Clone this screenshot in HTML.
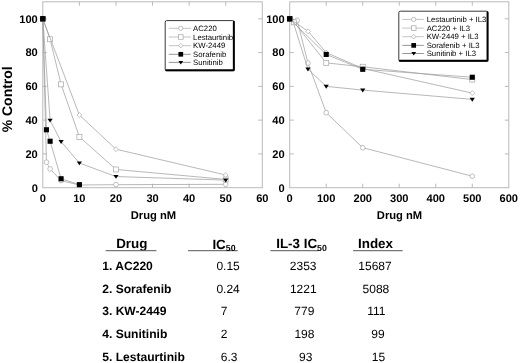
<!DOCTYPE html>
<html><head><meta charset="utf-8"><title>Drug IC50</title>
<style>
html,body{margin:0;padding:0;background:#fff;}
body{width:520px;height:363px;overflow:hidden;}
svg{display:block;filter:blur(0.35px);}
text{font-family:"Liberation Sans",sans-serif;fill:#000;text-rendering:geometricPrecision;}
.tk{font-size:11.1px;font-weight:bold;}
.ax{font-size:11.2px;font-weight:bold;}
.yl{font-size:14px;font-weight:bold;}
.lg{font-size:7.75px;}
.hd{font-size:13.4px;font-weight:bold;}
.sb{font-size:8.8px;font-weight:bold;}
.nm{font-size:12.1px;font-weight:bold;}
.vl{font-size:12px;}
</style></head>
<body>
<svg width="520" height="363" viewBox="0 0 520 363">
<rect width="520" height="363" fill="#fff"/>
<rect x="42.8" y="1.8" width="219.5" height="185.9" fill="none" stroke="#bababa" stroke-width="1"/>
<path d="M79.38 187.7v-4.0M79.38 1.8v4.0M115.97 187.7v-4.0M115.97 1.8v4.0M152.55 187.7v-4.0M152.55 1.8v4.0M189.13 187.7v-4.0M189.13 1.8v4.0M225.72 187.7v-4.0M225.72 1.8v4.0M42.8 153.92h4.0M262.3 153.92h-4.0M42.8 120.14h4.0M262.3 120.14h-4.0M42.8 86.36h4.0M262.3 86.36h-4.0M42.8 52.58h4.0M262.3 52.58h-4.0M42.8 18.8h4.0M262.3 18.8h-4.0" stroke="#bababa" stroke-width="1" fill="none"/>
<text x="42.8" y="201.6" text-anchor="middle" class="tk">0</text>
<text x="79.38" y="201.6" text-anchor="middle" class="tk">10</text>
<text x="115.97" y="201.6" text-anchor="middle" class="tk">20</text>
<text x="152.55" y="201.6" text-anchor="middle" class="tk">30</text>
<text x="189.13" y="201.6" text-anchor="middle" class="tk">40</text>
<text x="225.72" y="201.6" text-anchor="middle" class="tk">50</text>
<text x="262.3" y="201.6" text-anchor="middle" class="tk">60</text>
<text x="37.8" y="191.55" text-anchor="end" class="tk">0</text>
<text x="37.8" y="157.77" text-anchor="end" class="tk">20</text>
<text x="37.8" y="123.99" text-anchor="end" class="tk">40</text>
<text x="37.8" y="90.21" text-anchor="end" class="tk">60</text>
<text x="37.8" y="56.43" text-anchor="end" class="tk">80</text>
<text x="37.8" y="22.65" text-anchor="end" class="tk">100</text>
<rect x="289.7" y="1.8" width="219.1" height="185.9" fill="none" stroke="#bababa" stroke-width="1"/>
<path d="M326.22 187.7v-4.0M326.22 1.8v4.0M362.73 187.7v-4.0M362.73 1.8v4.0M399.25 187.7v-4.0M399.25 1.8v4.0M435.77 187.7v-4.0M435.77 1.8v4.0M472.28 187.7v-4.0M472.28 1.8v4.0M289.7 153.92h4.0M508.8 153.92h-4.0M289.7 120.14h4.0M508.8 120.14h-4.0M289.7 86.36h4.0M508.8 86.36h-4.0M289.7 52.58h4.0M508.8 52.58h-4.0M289.7 18.8h4.0M508.8 18.8h-4.0" stroke="#bababa" stroke-width="1" fill="none"/>
<text x="289.7" y="201.6" text-anchor="middle" class="tk">0</text>
<text x="326.22" y="201.6" text-anchor="middle" class="tk">100</text>
<text x="362.73" y="201.6" text-anchor="middle" class="tk">200</text>
<text x="399.25" y="201.6" text-anchor="middle" class="tk">300</text>
<text x="435.77" y="201.6" text-anchor="middle" class="tk">400</text>
<text x="472.28" y="201.6" text-anchor="middle" class="tk">500</text>
<text x="508.8" y="201.6" text-anchor="middle" class="tk">600</text>
<text x="284.7" y="191.55" text-anchor="end" class="tk">0</text>
<text x="284.7" y="157.77" text-anchor="end" class="tk">20</text>
<text x="284.7" y="123.99" text-anchor="end" class="tk">40</text>
<text x="284.7" y="90.21" text-anchor="end" class="tk">60</text>
<text x="284.7" y="56.43" text-anchor="end" class="tk">80</text>
<text x="284.7" y="22.65" text-anchor="end" class="tk">100</text>
<path d="M42.8 18.8L46.46 162.2L50.12 168.95L61.09 180.61L79.38 185L115.97 184.66L225.72 184.32" fill="none" stroke="#a0a0a0" stroke-width="0.75"/>
<circle cx="42.8" cy="18.8" r="2.35" fill="#fff" stroke="#ababab" stroke-width="0.75"/>
<circle cx="46.46" cy="162.2" r="2.35" fill="#fff" stroke="#ababab" stroke-width="0.75"/>
<circle cx="50.12" cy="168.95" r="2.35" fill="#fff" stroke="#ababab" stroke-width="0.75"/>
<circle cx="61.09" cy="180.61" r="2.35" fill="#fff" stroke="#ababab" stroke-width="0.75"/>
<circle cx="79.38" cy="185" r="2.35" fill="#fff" stroke="#ababab" stroke-width="0.75"/>
<circle cx="115.97" cy="184.66" r="2.35" fill="#fff" stroke="#ababab" stroke-width="0.75"/>
<circle cx="225.72" cy="184.32" r="2.35" fill="#fff" stroke="#ababab" stroke-width="0.75"/>
<path d="M42.8 18.8L50.12 39.24L61.09 84.33L79.38 136.86L115.97 169.46L225.72 179.42" fill="none" stroke="#a0a0a0" stroke-width="0.75"/>
<rect x="40.3" y="16.3" width="5" height="5" fill="#fff" stroke="#ababab" stroke-width="0.75"/>
<rect x="47.62" y="36.74" width="5" height="5" fill="#fff" stroke="#ababab" stroke-width="0.75"/>
<rect x="58.59" y="81.83" width="5" height="5" fill="#fff" stroke="#ababab" stroke-width="0.75"/>
<rect x="76.88" y="134.36" width="5" height="5" fill="#fff" stroke="#ababab" stroke-width="0.75"/>
<rect x="113.47" y="166.96" width="5" height="5" fill="#fff" stroke="#ababab" stroke-width="0.75"/>
<rect x="223.22" y="176.92" width="5" height="5" fill="#fff" stroke="#ababab" stroke-width="0.75"/>
<path d="M42.8 18.8L79.38 115.07L115.97 149.19L225.72 175.03" fill="none" stroke="#a0a0a0" stroke-width="0.75"/>
<path d="M42.8 16.35L45.25 18.8L42.8 21.25L40.35 18.8Z" fill="#fff" stroke="#ababab" stroke-width="0.75"/>
<path d="M79.38 112.62L81.83 115.07L79.38 117.52L76.93 115.07Z" fill="#fff" stroke="#ababab" stroke-width="0.75"/>
<path d="M115.97 146.74L118.42 149.19L115.97 151.64L113.52 149.19Z" fill="#fff" stroke="#ababab" stroke-width="0.75"/>
<path d="M225.72 172.58L228.17 175.03L225.72 177.48L223.27 175.03Z" fill="#fff" stroke="#ababab" stroke-width="0.75"/>
<path d="M42.8 18.8L46.46 129.77L50.12 141.25L61.09 178.75L79.38 184.66" fill="none" stroke="#a0a0a0" stroke-width="0.75"/>
<rect x="40.25" y="16.25" width="5.1" height="5.1" fill="#000"/>
<rect x="43.91" y="127.22" width="5.1" height="5.1" fill="#000"/>
<rect x="47.57" y="138.7" width="5.1" height="5.1" fill="#000"/>
<rect x="58.54" y="176.2" width="5.1" height="5.1" fill="#000"/>
<rect x="76.83" y="182.11" width="5.1" height="5.1" fill="#000"/>
<path d="M42.8 18.8L50.12 120.31L61.09 141.59L79.38 163.04L115.97 176.55L225.72 180.1" fill="none" stroke="#a0a0a0" stroke-width="0.75"/>
<path d="M40.2 17.2L45.4 17.2L42.8 21.1Z" fill="#000"/>
<path d="M47.52 118.71L52.72 118.71L50.12 122.61Z" fill="#000"/>
<path d="M58.49 139.99L63.69 139.99L61.09 143.89Z" fill="#000"/>
<path d="M76.78 161.44L81.98 161.44L79.38 165.34Z" fill="#000"/>
<path d="M113.37 174.95L118.57 174.95L115.97 178.85Z" fill="#000"/>
<path d="M223.12 178.5L228.32 178.5L225.72 182.4Z" fill="#000"/>
<rect x="40.25" y="16.25" width="5.1" height="5.1" fill="#000"/>
<path d="M289.7 18.8L297.19 20.32L307.96 63.05L326.22 112.71L362.73 147.67L472.28 176.21" fill="none" stroke="#a0a0a0" stroke-width="0.75"/>
<circle cx="289.7" cy="18.8" r="2.35" fill="#fff" stroke="#ababab" stroke-width="0.75"/>
<circle cx="297.19" cy="20.32" r="2.35" fill="#fff" stroke="#ababab" stroke-width="0.75"/>
<circle cx="307.96" cy="63.05" r="2.35" fill="#fff" stroke="#ababab" stroke-width="0.75"/>
<circle cx="326.22" cy="112.71" r="2.35" fill="#fff" stroke="#ababab" stroke-width="0.75"/>
<circle cx="362.73" cy="147.67" r="2.35" fill="#fff" stroke="#ababab" stroke-width="0.75"/>
<circle cx="472.28" cy="176.21" r="2.35" fill="#fff" stroke="#ababab" stroke-width="0.75"/>
<path d="M289.7 18.8L294.08 22.35L326.22 62.88L362.73 66.77L472.28 79.6" fill="none" stroke="#a0a0a0" stroke-width="0.75"/>
<rect x="287.2" y="16.3" width="5" height="5" fill="#fff" stroke="#ababab" stroke-width="0.75"/>
<rect x="291.58" y="19.85" width="5" height="5" fill="#fff" stroke="#ababab" stroke-width="0.75"/>
<rect x="323.72" y="60.38" width="5" height="5" fill="#fff" stroke="#ababab" stroke-width="0.75"/>
<rect x="360.23" y="64.27" width="5" height="5" fill="#fff" stroke="#ababab" stroke-width="0.75"/>
<rect x="469.78" y="77.1" width="5" height="5" fill="#fff" stroke="#ababab" stroke-width="0.75"/>
<path d="M289.7 18.8L308.14 31.3L326.22 52.58L362.73 68.46L472.28 93.12" fill="none" stroke="#a0a0a0" stroke-width="0.75"/>
<path d="M289.7 16.35L292.15 18.8L289.7 21.25L287.25 18.8Z" fill="#fff" stroke="#ababab" stroke-width="0.75"/>
<path d="M308.14 28.85L310.59 31.3L308.14 33.75L305.69 31.3Z" fill="#fff" stroke="#ababab" stroke-width="0.75"/>
<path d="M326.22 50.13L328.67 52.58L326.22 55.03L323.77 52.58Z" fill="#fff" stroke="#ababab" stroke-width="0.75"/>
<path d="M362.73 66.01L365.18 68.46L362.73 70.91L360.28 68.46Z" fill="#fff" stroke="#ababab" stroke-width="0.75"/>
<path d="M472.28 90.67L474.73 93.12L472.28 95.57L469.83 93.12Z" fill="#fff" stroke="#ababab" stroke-width="0.75"/>
<path d="M289.7 18.8L326.22 54.44L362.73 69.3L472.28 77.24" fill="none" stroke="#a0a0a0" stroke-width="0.75"/>
<rect x="287.15" y="16.25" width="5.1" height="5.1" fill="#000"/>
<rect x="323.67" y="51.89" width="5.1" height="5.1" fill="#000"/>
<rect x="360.18" y="66.75" width="5.1" height="5.1" fill="#000"/>
<rect x="469.73" y="74.69" width="5.1" height="5.1" fill="#000"/>
<path d="M289.7 18.8L293.35 22.52L307.96 69.13L326.22 86.36L362.73 90.08L472.28 99.37" fill="none" stroke="#a0a0a0" stroke-width="0.75"/>
<path d="M287.1 17.2L292.3 17.2L289.7 21.1Z" fill="#000"/>
<path d="M305.36 67.53L310.56 67.53L307.96 71.43Z" fill="#000"/>
<path d="M323.62 84.76L328.82 84.76L326.22 88.66Z" fill="#000"/>
<path d="M360.13 88.48L365.33 88.48L362.73 92.38Z" fill="#000"/>
<path d="M469.68 97.77L474.88 97.77L472.28 101.67Z" fill="#000"/>
<rect x="287.15" y="16.25" width="5.1" height="5.1" fill="#000"/>
<rect x="165.2" y="20.6" width="69" height="50.1" rx="1.5" fill="#fff" stroke="#222" stroke-width="0.9"/>
<path d="M233.8 21.6V70.3H166.2" fill="none" stroke="#000" stroke-width="1.9" stroke-linejoin="round" stroke-linecap="round"/>
<path d="M168.7 28.3H190.8" stroke="#b4b4b4" stroke-width="0.8"/>
<circle cx="180.8" cy="28.3" r="2.16" fill="#fff" stroke="#ababab" stroke-width="0.75"/>
<text x="193.1" y="31.05" class="lg">AC220</text>
<path d="M168.7 37H190.8" stroke="#b4b4b4" stroke-width="0.8"/>
<rect x="178.5" y="34.7" width="4.6" height="4.6" fill="#fff" stroke="#ababab" stroke-width="0.75"/>
<text x="193.1" y="39.75" class="lg">Lestaurtinib</text>
<path d="M168.7 45.7H190.8" stroke="#b4b4b4" stroke-width="0.8"/>
<path d="M180.8 43.45L183.05 45.7L180.8 47.95L178.55 45.7Z" fill="#fff" stroke="#ababab" stroke-width="0.75"/>
<text x="193.1" y="48.45" class="lg">KW-2449</text>
<path d="M168.7 54.3H190.8" stroke="#7c7c7c" stroke-width="0.8"/>
<rect x="178.45" y="51.95" width="4.69" height="4.69" fill="#000"/>
<text x="193.1" y="57.05" class="lg">Sorafenib</text>
<path d="M168.7 62.4H190.8" stroke="#7c7c7c" stroke-width="0.8"/>
<path d="M178.41 60.93L183.19 60.93L180.8 64.52Z" fill="#000"/>
<text x="193.1" y="65.15" class="lg">Sunitinib</text>
<rect x="398.8" y="11.2" width="89.1" height="50" rx="1.5" fill="#fff" stroke="#222" stroke-width="0.9"/>
<path d="M487.5 12.2V60.8H399.8" fill="none" stroke="#000" stroke-width="1.9" stroke-linejoin="round" stroke-linecap="round"/>
<path d="M402.3 19.4H423.8" stroke="#b4b4b4" stroke-width="0.8"/>
<circle cx="413.7" cy="19.4" r="2.16" fill="#fff" stroke="#ababab" stroke-width="0.75"/>
<text x="426.7" y="22.15" class="lg">Lestaurtinib + IL3</text>
<path d="M402.3 28.1H423.8" stroke="#b4b4b4" stroke-width="0.8"/>
<rect x="411.4" y="25.8" width="4.6" height="4.6" fill="#fff" stroke="#ababab" stroke-width="0.75"/>
<text x="426.7" y="30.85" class="lg">AC220 + IL3</text>
<path d="M402.3 36.7H423.8" stroke="#b4b4b4" stroke-width="0.8"/>
<path d="M413.7 34.45L415.95 36.7L413.7 38.95L411.45 36.7Z" fill="#fff" stroke="#ababab" stroke-width="0.75"/>
<text x="426.7" y="39.45" class="lg">KW-2449 + IL3</text>
<path d="M402.3 45.4H423.8" stroke="#7c7c7c" stroke-width="0.8"/>
<rect x="411.35" y="43.05" width="4.69" height="4.69" fill="#000"/>
<text x="426.7" y="48.15" class="lg">Sorafenib + IL3</text>
<path d="M402.3 53.5H423.8" stroke="#7c7c7c" stroke-width="0.8"/>
<path d="M411.31 52.03L416.09 52.03L413.7 55.62Z" fill="#000"/>
<text x="426.7" y="56.25" class="lg">Sunitinib + IL3</text>
<text x="153.4" y="219" text-anchor="middle" class="ax">Drug nM</text>
<text x="399.5" y="219" text-anchor="middle" class="ax">Drug nM</text>
<text transform="translate(12.3 99.3) rotate(-90)" text-anchor="middle" class="yl">% Control</text>
<text x="116.2" y="247.9" class="hd">Drug</text>
<path d="M105.7 250.7H156.4M188.1 250.7H237.8M270.4 250.7H318.5M353.1 250.7H402.6" stroke="#555" stroke-width="1"/>
<text x="212.4" y="248.6" class="hd">IC<tspan class="sb" dy="2.3">50</tspan></text>
<text x="276.2" y="248.4" class="hd">IL-3 IC<tspan class="sb" dy="2.3">50</tspan></text>
<text x="358" y="247.9" class="hd">Index</text>
<text x="102.2" y="269.9" class="nm">1. AC220</text>
<text x="216.4" y="269.9" class="vl">0.15</text>
<text x="289.8" y="269.9" class="vl">2353</text>
<text x="358.3" y="269.9" class="vl">15687</text>
<text x="102.2" y="292.55" class="nm">2. Sorafenib</text>
<text x="216.4" y="292.55" class="vl">0.24</text>
<text x="289.9" y="292.55" class="vl">1221</text>
<text x="362.6" y="292.55" class="vl">5088</text>
<text x="102.2" y="315.25" class="nm">3. KW-2449</text>
<text x="220.8" y="315.25" class="vl">7</text>
<text x="294.3" y="315.25" class="vl">779</text>
<text x="367.3" y="315.25" class="vl">111</text>
<text x="102.2" y="337.9" class="nm">4. Sunitinib</text>
<text x="220.8" y="337.9" class="vl">2</text>
<text x="294.4" y="337.9" class="vl">198</text>
<text x="371.3" y="337.9" class="vl">99</text>
<text x="102.2" y="360.55" class="nm">5. Lestaurtinib</text>
<text x="220.8" y="360.55" class="vl">6.3</text>
<text x="299.1" y="360.55" class="vl">93</text>
<text x="371.8" y="360.55" class="vl">15</text>
</svg>
</body></html>
